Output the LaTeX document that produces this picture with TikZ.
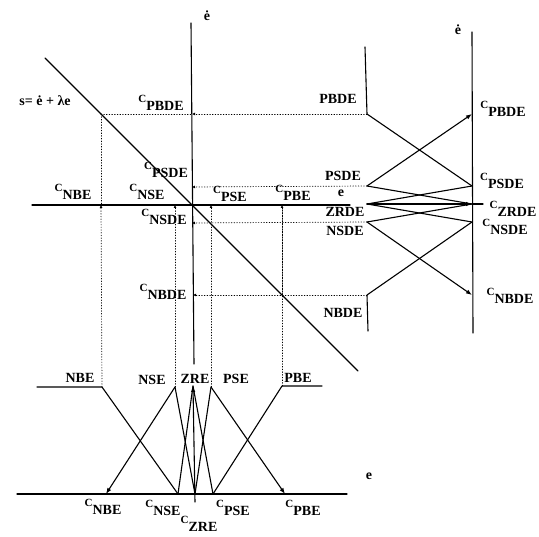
\documentclass[tikz,border=0pt]{standalone}
\usepackage{fontspec}
\setmainfont{Liberation Serif}
\usetikzlibrary{arrows.meta}
\newcommand{\cset}[1]{{\fontsize{11}{11}\selectfont C}\raisebox{-8.5pt}{#1}}

\begin{document}
\begin{tikzpicture}[x=1pt,y=-1pt,line width=1.1pt,>={Latex[length=6pt,width=4.5pt]},
 line cap=round,line join=round,font=\fontsize{14}{16}\bfseries\selectfont,
 guide/.style={dotted,line width=.7pt},
 tick/.style={guide,-{Latex[length=3pt,width=3pt]}},
 lbl/.style={inner sep=0pt}]
 \useasboundingbox (0,0) rectangle (539,537);
 % error plane with switching line
 \coordinate (ed-top) at (191,23);
 \coordinate (ed-bot) at (194,364);
 \coordinate (e-left) at (32,205);
 \coordinate (e-right) at (350,205);
 \coordinate (s-top) at (45,58);
 \coordinate (s-bot) at (358,371);
 \coordinate (sPB) at (101,114);
 \coordinate (sNB) at (282,295);
 \coordinate (tPBDE) at (192,114);
 \coordinate (tPSDE) at (192,187);
 \coordinate (tNSDE) at (192,223);
 \coordinate (tNBDE) at (193,295);
 \coordinate (tNBE) at (101,205);
 \coordinate (tNSE) at (175,205);
 \coordinate (tPSE) at (211,205);
 \coordinate (tPBE) at (282,205);
 % membership of edot
 \coordinate (PBDE-top) at (365,47);
 \coordinate (PBDE) at (367,114);
 \coordinate (PSDE) at (367,186);
 \coordinate (ZRDE) at (367,204);
 \coordinate (NSDE) at (367,222);
 \coordinate (NBDE) at (367,295);
 \coordinate (NBDE-bot) at (368,331);
 \coordinate (r-top) at (472,32);
 \coordinate (r-bot) at (473,333);
 \coordinate (cPBDE) at (472,114);
 \coordinate (cPSDE) at (472,186);
 \coordinate (cZRDE) at (472,204);
 \coordinate (cNSDE) at (472,222);
 \coordinate (cNBDE) at (472,295);
 \coordinate (zr-end) at (483,204);
 % membership of e
 \coordinate (NBE-left) at (37,387);
 \coordinate (NBE) at (102,387);
 \coordinate (NSE) at (175,387);
 \coordinate (ZRE) at (193,386);
 \coordinate (PSE) at (211,387);
 \coordinate (PBE) at (282,386);
 \coordinate (PBE-right) at (322,386);
 \coordinate (b-left) at (17,494);
 \coordinate (b-right) at (347,494);
 \coordinate (cNBE) at (106,494);
 \coordinate (cNSE) at (178,494);
 \coordinate (cZRE) at (195,494);
 \coordinate (cPSE) at (213,494);
 \coordinate (cPBE) at (285,494);
 \coordinate (zre-end) at (195,502);

 \draw (ed-bot)--(ed-top);
 \draw (e-left)--(e-right);
 \draw (s-top)--(s-bot);
 \draw[guide] (sPB)--(tPBDE);
 \draw[guide] (sPB)--(tNBE);
 \draw[guide] (sNB)--(tPBE);
 \foreach \from/\to in {PBDE/tPBDE,PSDE/tPSDE,NSDE/tNSDE,NBDE/tNBDE,
  NBE/tNBE,NSE/tNSE,PSE/tPSE,PBE/tPBE}
  \draw[tick] (\from)--(\to);

 \draw (r-bot)--(r-top);
 \draw (PBDE-top)--(PBDE)--(cPSDE);
 \draw[->] (PSDE)--(cPBDE);
 \draw (PSDE)--(cZRDE);
 \draw (ZRDE)--(cPSDE);
 \draw (ZRDE)--(cNSDE);
 \draw[->] (ZRDE)--(cZRDE);
 \draw (cZRDE)--(zr-end);
 \draw (NSDE)--(cZRDE);
 \draw[->] (NSDE)--(cNBDE);
 \draw (NBDE-bot)--(NBDE)--(cNSDE);

 \draw (b-left)--(b-right);
 \draw (NBE-left)--(NBE)--(cNSE);
 \draw[->] (NSE)--(cNBE);
 \draw (NSE)--(cZRE);
 \draw (ZRE)--(cNSE);
 \draw (ZRE)--(cPSE);
 \draw[->] (zre-end)--(ZRE);
 \draw (PSE)--(cZRE);
 \draw[->] (PSE)--(cPBE);
 \draw (PBE-right)--(PBE)--(cPSE);

 \node[lbl] (ed-lbl) at (207,16) {\.{e}};
 \node[lbl] (s-lbl) at (45,101) {s= \.{e} + λe};
 \node[lbl] (l-tPBDE) at (161,103) {\cset{PBDE}};
 \node[lbl] (l-tPSDE) at (166,170) {\cset{PSDE}};
 \node[lbl] (l-tNSDE) at (164,217) {\cset{NSDE}};
 \node[lbl] (l-tNBDE) at (163,292) {\cset{NBDE}};
 \node[lbl] (l-tNBE) at (73,192) {\cset{NBE}};
 \node[lbl] (l-tNSE) at (147,192) {\cset{NSE}};
 \node[lbl] (l-tPSE) at (230,194) {\cset{PSE}};
 \node[lbl] (l-tPBE) at (293,193) {\cset{PBE}};
 \node[lbl] (e-lbl) at (341,193) {e};

 \node[lbl] (l-PBDE) at (338,99) {PBDE};
 \node[lbl] (l-PSDE) at (343,176) {PSDE};
 \node[lbl] (l-ZRDE) at (345,212) {ZRDE};
 \node[lbl] (l-NSDE) at (345,231) {NSDE};
 \node[lbl] (l-NBDE) at (343,313) {NBDE};
 \node[lbl] (r-lbl) at (458,30) {\.{e}};
 \node[lbl] (l-cPBDE) at (503,109) {\cset{PBDE}};
 \node[lbl] (l-cPSDE) at (502,181) {\cset{PSDE}};
 \node[lbl] (l-cZRDE) at (513,209) {\cset{ZRDE}};
 \node[lbl] (l-cNSDE) at (505,227) {\cset{NSDE}};
 \node[lbl] (l-cNBDE) at (510,296) {\cset{NBDE}};

 \node[lbl] (l-NBE) at (80,378) {NBE};
 \node[lbl] (l-NSE) at (152,380) {NSE};
 \node[lbl] (l-ZRE) at (195,379) {ZRE};
 \node[lbl] (l-PSE) at (236,379) {PSE};
 \node[lbl] (l-PBE) at (298,378) {PBE};
 \node[lbl] (l-cNBE) at (103,507) {\cset{NBE}};
 \node[lbl] (l-cNSE) at (163,508) {\cset{NSE}};
 \node[lbl] (l-cZRE) at (199,524) {\cset{ZRE}};
 \node[lbl] (l-cPSE) at (233,508) {\cset{PSE}};
 \node[lbl] (l-cPBE) at (303,508) {\cset{PBE}};
 \node[lbl] (b-lbl) at (369,476) {e};
\end{tikzpicture}
\end{document}
